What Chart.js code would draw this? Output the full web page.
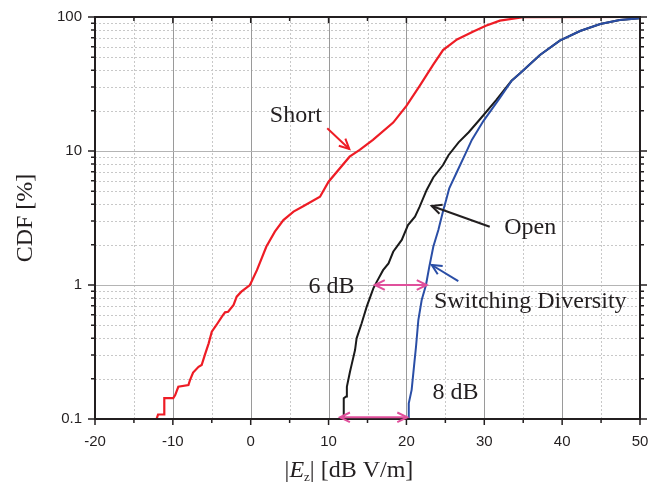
<!DOCTYPE html>
<html>
<head>
<meta charset="utf-8">
<script src="https://cdn.jsdelivr.net/npm/chart.js@4.4.0/dist/chart.umd.min.js"></script>
<style>
  html, body { margin: 0; padding: 0; background: #fff; }
</style>
</head>
<body>
<canvas id="myChart" width="661" height="483"></canvas>
<script>
// tick values
var xTicks = [-20, -10, 0, 10, 20, 30, 40, 50];
var yTicks = [0.1, 1, 10, 100];

// Short (red)
var shortX = [-12.1, -11.9, -11.1, -11.1, -9.95, -9.7, -9.3, -8.0, -7.8, -7.4, -6.7, -6.3, -5.9, -5.4, -5.0, -4.4, -3.7, -3.3, -2.9, -2.2, -1.8, -1.2, -0.1, 0.8, 2.0, 3.1, 4.2, 5.5, 6.8, 8.9, 10.0, 12.7, 14.0, 15.7, 18.3, 20.0, 21.7, 23.4, 24.7, 26.5, 28.6, 30.2, 32.0, 35.0, 50];
var shortY = [0.1, 0.108, 0.108, 0.143, 0.143, 0.151, 0.174, 0.179, 0.195, 0.222, 0.245, 0.253, 0.30, 0.367, 0.449, 0.503, 0.58, 0.625, 0.632, 0.71, 0.818, 0.892, 1.0, 1.29, 1.93, 2.5, 3.05, 3.53, 3.89, 4.56, 5.9, 9.07, 10.2, 12.1, 16.3, 21.7, 30.6, 43.8, 56.7, 68, 78, 86, 94, 99.6, 100];

// Open (black)
var openX = [11.7, 11.95, 11.95, 12.25, 12.35, 12.75, 13.0, 13.4, 13.6, 14.25, 14.9, 15.75, 16.2, 17.0, 17.7, 18.3, 19.4, 20.2, 21.1, 21.7, 22.6, 23.45, 24.7, 25.4, 26.7, 28.0, 29.5, 31.5, 33.5, 34.6, 37.15, 39.7, 42.3, 44.9, 47.4, 50];
var openY = [0.1, 0.103, 0.143, 0.147, 0.174, 0.225, 0.26, 0.327, 0.40, 0.518, 0.689, 0.944, 1.06, 1.29, 1.45, 1.77, 2.17, 2.8, 3.24, 3.84, 5.12, 6.35, 7.86, 9.3, 11.6, 13.8, 17.4, 23.9, 33.4, 38.0, 52.1, 66.6, 78.6, 88.7, 95.0, 97.8];

// Switching Diversity (blue)
var divX = [20.24, 20.3, 20.67, 20.97, 21.23, 21.53, 21.96, 22.51, 22.94, 23.45, 24.1, 24.74, 25.1, 25.5, 26.6, 27.6, 28.4, 29.9, 31.8, 33.5, 34.6, 37.15, 39.7, 42.3, 44.9, 47.4, 50];
var divY = [0.1, 0.131, 0.165, 0.246, 0.346, 0.548, 0.773, 1.0, 1.37, 1.93, 2.57, 3.63, 4.31, 5.27, 7.21, 9.6, 12.1, 16.8, 24.0, 33.4, 38.0, 52.1, 66.6, 78.6, 88.7, 95.0, 97.8];

function pts(xs, ys) {
  return xs.map(function (v, i) { return { x: v, y: ys[i] }; });
}

var serif = "'Liberation Serif', 'Times New Roman', serif";
var pink = "#e0509c";

function arrowHead(ctx, x0, y0, x1, y1, len) {
  var a = Math.atan2(y1 - y0, x1 - x0);
  ctx.beginPath();
  ctx.moveTo(x1 - len * Math.cos(a - 0.45), y1 - len * Math.sin(a - 0.45));
  ctx.lineTo(x1, y1);
  ctx.lineTo(x1 - len * Math.cos(a + 0.45), y1 - len * Math.sin(a + 0.45));
  ctx.stroke();
}

function arrow(chart, from, to, color, both) {
  var ctx = chart.ctx, x = chart.scales.x, y = chart.scales.y;
  var x0 = x.getPixelForValue(from[0]), y0 = y.getPixelForValue(from[1]);
  var x1 = x.getPixelForValue(to[0]), y1 = y.getPixelForValue(to[1]);
  ctx.strokeStyle = color;
  ctx.lineWidth = 2;
  ctx.beginPath();
  ctx.moveTo(x0, y0);
  ctx.lineTo(x1, y1);
  ctx.stroke();
  arrowHead(ctx, x0, y0, x1, y1, 11);
  if (both) arrowHead(ctx, x1, y1, x0, y0, 11);
}

function note(chart, text, at) {
  var ctx = chart.ctx;
  ctx.font = "24px " + serif;
  ctx.fillStyle = "#231f20";
  ctx.textAlign = "center";
  ctx.textBaseline = "middle";
  ctx.fillText(text, chart.scales.x.getPixelForValue(at[0]), chart.scales.y.getPixelForValue(at[1]));
}

var decor = {
  id: "decor",
  beforeDatasetsDraw: function (chart) {
    var ctx = chart.ctx, a = chart.chartArea, x = chart.scales.x, y = chart.scales.y;
    ctx.save();
    ctx.lineWidth = 1;
    // minor grid, dotted
    ctx.setLineDash([2, 2]);
    ctx.strokeStyle = "#c8c8c8";
    for (var v = -15; v < 50; v += 10) {
      var px = Math.round(x.getPixelForValue(v)) + 0.5;
      ctx.beginPath(); ctx.moveTo(px, a.top); ctx.lineTo(px, a.bottom); ctx.stroke();
    }
    [0.1, 1, 10].forEach(function (d) {
      for (var k = 2; k <= 9; k++) {
        var py = Math.round(y.getPixelForValue(k * d)) + 0.5;
        ctx.beginPath(); ctx.moveTo(a.left, py); ctx.lineTo(a.right, py); ctx.stroke();
      }
    });
    // major grid
    ctx.setLineDash([]);
    ctx.strokeStyle = "#9a9a9a";
    xTicks.slice(1, -1).forEach(function (v) {
      var px = Math.round(x.getPixelForValue(v)) + 0.5;
      ctx.beginPath(); ctx.moveTo(px, a.top); ctx.lineTo(px, a.bottom); ctx.stroke();
    });
    ctx.strokeStyle = "#b4b4b4";
    yTicks.slice(1, -1).forEach(function (v) {
      var py = Math.round(y.getPixelForValue(v)) + 0.5;
      ctx.beginPath(); ctx.moveTo(a.left, py); ctx.lineTo(a.right, py); ctx.stroke();
    });
    ctx.restore();
  },
  afterDatasetsDraw: function (chart) {
    var ctx = chart.ctx, a = chart.chartArea, x = chart.scales.x, y = chart.scales.y;
    ctx.save();
    // frame
    ctx.strokeStyle = "#231f20";
    ctx.lineWidth = 2;
    ctx.strokeRect(a.left, a.top, a.right - a.left, a.bottom - a.top);
    // tick marks
    ctx.lineWidth = 1.5;
    ctx.beginPath();
    for (var v = -20; v <= 50; v += 5) {
      var px = x.getPixelForValue(v);
      var len = v % 10 === 0 ? 6 : 4;
      ctx.moveTo(px, a.bottom); ctx.lineTo(px, a.bottom + len);
      ctx.moveTo(px, a.top); ctx.lineTo(px, a.top + len);
    }
    [0.1, 1, 10].forEach(function (d) {
      for (var k = 1; k <= 10; k++) {
        var py = y.getPixelForValue(k * d);
        var len = (k === 1 || k === 10) ? 7 : 4;
        ctx.moveTo(a.left, py); ctx.lineTo(a.left - len, py);
        ctx.moveTo(a.right, py); ctx.lineTo(a.right + len, py);
      }
    });
    ctx.stroke();

    // annotations
    note(chart, "Short", [5.8, 18.2]);
    arrow(chart, [9.83, 14.8], [12.66, 10.35], "#ee1c25");
    note(chart, "Open", [35.9, 2.66]);
    arrow(chart, [30.7, 2.72], [23.25, 3.89], "#231f20");
    note(chart, "Switching Diversity", [35.9, 0.746]);
    arrow(chart, [26.66, 1.07], [23.25, 1.41], "#2a4ea6");
    note(chart, "6 dB", [10.37, 0.966]);
    arrow(chart, [15.95, 1], [22.6, 1], pink, true);
    note(chart, "8 dB", [26.3, 0.156]);
    arrow(chart, [11.47, 0.103], [20.1, 0.103], pink, true);

    // axis titles
    ctx.fillStyle = "#231f20";
    ctx.textBaseline = "middle";
    ctx.textAlign = "center";
    ctx.font = "24px " + serif;
    ctx.save();
    ctx.translate(26, (a.top + a.bottom) / 2);
    ctx.rotate(-Math.PI / 2);
    ctx.fillText("CDF [%]", 0, 0);
    ctx.restore();

    var parts = [
      { t: "|", f: "24px " + serif, dy: 0 },
      { t: "E", f: "italic 24px " + serif, dy: 0 },
      { t: "z", f: "13px " + serif, dy: 4 },
      { t: "| [dB V/m]", f: "24px " + serif, dy: 0 }
    ];
    var total = 0;
    parts.forEach(function (p) { ctx.font = p.f; p.w = ctx.measureText(p.t).width; total += p.w; });
    var cx = a.left + (a.right - a.left) * 0.466 - total / 2;
    var base = 477;
    ctx.textAlign = "left";
    ctx.textBaseline = "alphabetic";
    parts.forEach(function (p) {
      ctx.font = p.f;
      ctx.fillText(p.t, cx, base + p.dy);
      cx += p.w;
    });
    ctx.restore();
  }
};

var ctx = document.getElementById("myChart").getContext("2d");
// first dataset is drawn on top
var chart = new Chart(ctx, {
  type: "line",
  data: {
    datasets: [
      { label: "Short", data: pts(shortX, shortY), borderColor: "#ee1c25", borderWidth: 2.2 },
      { label: "Switching Diversity", data: pts(divX, divY), borderColor: "#2a4ea6", borderWidth: 2 },
      { label: "Open", data: pts(openX, openY), borderColor: "#1a1a1a", borderWidth: 2 }
    ]
  },
  options: {
    responsive: false,
    animation: false,
    devicePixelRatio: 1,
    layout: { padding: { top: 17, right: 21, left: 0, bottom: 0 } },
    elements: { point: { radius: 0 }, line: { tension: 0 } },
    plugins: { legend: { display: false }, tooltip: { enabled: false } },
    scales: {
      x: {
        type: "linear",
        min: -20,
        max: 50,
        afterBuildTicks: function (s) { s.ticks = xTicks.map(function (v) { return { value: v }; }); },
        afterFit: function (s) { s.height = 64; s.paddingLeft = 0; s.paddingRight = 0; },
        grid: { display: false, drawTicks: false },
        border: { display: false },
        ticks: { padding: 14, color: "#231f20", font: { family: "'Liberation Sans', Arial, sans-serif", size: 15 } }
      },
      y: {
        type: "logarithmic",
        min: 0.1,
        max: 100,
        afterBuildTicks: function (s) { s.ticks = yTicks.map(function (v) { return { value: v }; }); },
        afterFit: function (s) { s.width = 95; s.paddingTop = 0; s.paddingBottom = 0; },
        grid: { display: false, drawTicks: false },
        border: { display: false },
        ticks: {
          padding: 13,
          color: "#231f20",
          font: { family: "'Liberation Sans', Arial, sans-serif", size: 15 },
          callback: function (v) { return String(v); }
        }
      }
    }
  },
  plugins: [decor]
});
</script>
</body>
</html>
